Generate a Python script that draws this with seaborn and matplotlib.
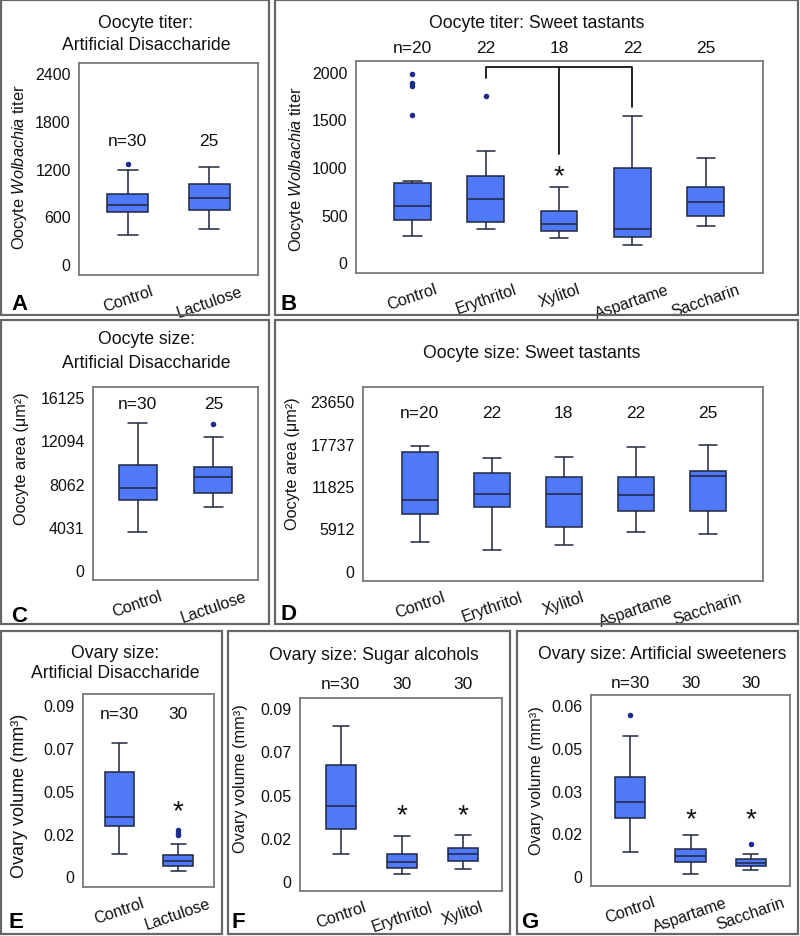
import numpy as np
import pandas as pd
import matplotlib
matplotlib.use("Agg")
import matplotlib.pyplot as plt
import seaborn as sns
from matplotlib.patches import Rectangle

# ---------------- data ----------------
# Panel A: Oocyte titer, artificial disaccharide
A_groups = ["Control", "Lactulose"]
A_lo = [364, 443]
A_q1 = [649, 682]
A_med = [737, 833]
A_q3 = [879, 1009]
A_hi = [1177, 1215]
A_out_groups = ["Control"]
A_out_vals = [1253]
A_n = ["n=30", "25"]
A_yticks = [0, 600, 1200, 1800, 2400]
A_yticklabels = ["0", "600", "1200", "1800", "2400"]

# Panel B: Oocyte titer, sweet tastants
B_groups = ["Control", "Erythritol", "Xylitol", "Aspartame", "Saccharin"]
B_lo = [279, 349, 258, 185, 381]
B_q1 = [444, 420, 325, 265, 483]
B_med = [594, 661, 399, 346, 630]
B_q3 = [832, 902, 535, 993, 787]
B_hi = [853, 1171, 790, 1535, 1094]
B_out_groups = ["Control", "Control", "Control", "Control", "Erythritol"]
B_out_vals = [1973, 1878, 1847, 1549, 1748]
B_n = ["n=20", "22", "18", "22", "25"]
B_yticks = [0, 500, 1000, 1500, 2000]
B_yticklabels = ["0", "500", "1000", "1500", "2000"]
B_star_groups = ["Xylitol"]
B_star_vals = [1010]
B_bracket_top = 2046
B_bracket_ends = [1930, 1633]   # Erythritol end, Aspartame end
B_bracket_mid = 1136            # Xylitol drop

# Panel C: Oocyte size, artificial disaccharide
C_groups = ["Control", "Lactulose"]
C_lo = [3518, 5852]
C_q1 = [6566, 7221]
C_med = [7656, 8717]
C_q3 = [9804, 9617]
C_hi = [13757, 12386]
C_out_groups = ["Lactulose"]
C_out_vals = [13632]
C_n = ["n=30", "25"]
C_yticks = [0, 4031.25, 8062.5, 12093.75, 16125]
C_yticklabels = ["0", "4031", "8062", "12094", "16125"]

# Panel D: Oocyte size, sweet tastants
D_groups = ["Control", "Erythritol", "Xylitol", "Aspartame", "Saccharin"]
D_lo = [4079, 2932, 3588, 5403, 5124]
D_q1 = [7874, 8851, 6101, 8376, 8376]
D_med = [9828, 10666, 10666, 10568, 13263]
D_q3 = [16613, 13598, 13081, 13039, 13919]
D_hi = [17451, 15775, 15915, 17311, 17590]
D_n = ["n=20", "22", "18", "22", "25"]
D_yticks = [0, 5912.5, 11825, 17737.5, 23650]
D_yticklabels = ["0", "5912", "11825", "17737", "23650"]

# Panel E: Ovary size, artificial disaccharide
E_groups = ["Control", "Lactulose"]
E_lo = [0.0120, 0.0026]
E_q1 = [0.0267, 0.0052]
E_med = [0.0311, 0.0081]
E_q3 = [0.0547, 0.0112]
E_hi = [0.0701, 0.0168]
E_out_groups = ["Lactulose", "Lactulose", "Lactulose"]
E_out_vals = [0.0245, 0.0229, 0.0215]
E_n = ["n=30", "30"]
E_yticks = [0, 0.0225, 0.045, 0.0675, 0.09]
E_yticklabels = ["0", "0.02", "0.05", "0.07", "0.09"]
E_star_groups = ["Lactulose"]
E_star_vals = [0.0393]

# Panel F: Ovary size, sugar alcohols
F_groups = ["Control", "Erythritol", "Xylitol"]
F_lo = [0.0141, 0.0035, 0.0065]
F_q1 = [0.0273, 0.0070, 0.0103]
F_med = [0.0388, 0.0099, 0.0139]
F_q3 = [0.0601, 0.0139, 0.0174]
F_hi = [0.0806, 0.0236, 0.0238]
F_n = ["n=30", "30", "30"]
F_yticks = [0, 0.0225, 0.045, 0.0675, 0.09]
F_yticklabels = ["0", "0.02", "0.05", "0.07", "0.09"]
F_star_groups = ["Erythritol", "Xylitol"]
F_star_vals = [0.0391, 0.0391]

# Panel G: Ovary size, artificial sweeteners
G_groups = ["Control", "Aspartame", "Saccharin"]
G_lo = [0.0083, 0.0007, 0.0020]
G_q1 = [0.0205, 0.0049, 0.0036]
G_med = [0.0261, 0.0070, 0.0045]
G_q3 = [0.0346, 0.0095, 0.0059]
G_hi = [0.0492, 0.0143, 0.0076]
G_out_groups = ["Control", "Saccharin"]
G_out_vals = [0.0566, 0.0113]
G_n = ["n=30", "30", "30"]
G_yticks = [0, 0.015, 0.03, 0.045, 0.06]
G_yticklabels = ["0", "0.02", "0.03", "0.05", "0.06"]
G_star_groups = ["Aspartame", "Saccharin"]
G_star_vals = [0.0232, 0.0232]

# ---------------- style ----------------
sns.set_style("white")
plt.rcParams["font.family"] = ["Liberation Sans", "DejaVu Sans"]
plt.rcParams["mathtext.fontset"] = "custom"
plt.rcParams["mathtext.rm"] = "Liberation Sans"
plt.rcParams["mathtext.it"] = "Liberation Sans:italic"

W, H = 800, 937
fig = plt.figure(figsize=(W / 100, H / 100), dpi=100)
fig.patch.set_facecolor("white")

BOX = "#5079F8"
EDGE = "#1f2640"
DOT = "#1b2c8c"
SPINE = "#7a7a7a"
FRAME = "#666666"
STAR_FS = 20


def frame(x0, y0, x1, y1):
    fig.patches.append(Rectangle((x0 / W, 1 - y1 / H), (x1 - x0) / W, (y1 - y0) / H,
                                 transform=fig.transFigure, fill=False,
                                 ec=FRAME, lw=1.6, zorder=0))


def panel(rect, groups, lo, q1, med, q3, hi, xlim, ylim, yticks, yticklabels,
          nlabels, n_y, out_g=None, out_v=None, star_g=None, star_v=None):
    x0, x1, yt, yb = rect
    ax = fig.add_axes([x0 / W, 1 - yb / H, (x1 - x0) / W, (yb - yt) / H])
    rows = []
    for g, a, b, c, d, e in zip(groups, lo, q1, med, q3, hi):
        for v in (a, b, c, d, e):
            rows.append((g, v))
    df = pd.DataFrame(rows, columns=["group", "value"])
    sns.boxplot(data=df, x="group", y="value", order=groups, ax=ax, whis=(0, 100),
                width=0.5, color=BOX, saturation=1, linecolor=EDGE, linewidth=1.1,
                showfliers=False)
    if out_g:
        odf = pd.DataFrame({"group": out_g, "value": out_v})
        sns.stripplot(data=odf, x="group", y="value", order=groups, ax=ax,
                      jitter=False, color=DOT, size=4, linewidth=0, zorder=5)
    if star_g:
        for g, v in zip(star_g, star_v):
            ax.annotate("*", xy=(groups.index(g), v), xytext=(0, -0.6 * STAR_FS),
                        textcoords="offset points", ha="center", va="baseline",
                        fontsize=STAR_FS, color="#111111")
    for i, lab in enumerate(nlabels):
        ax.text(i, n_y, lab, ha="center", va="center", fontsize=12.5,
                clip_on=False, color="#111111")
    ax.set_xlim(*xlim)
    ax.set_ylim(*ylim)
    ax.set_yticks(yticks)
    ax.set_yticklabels(yticklabels)
    ax.set_xlabel("")
    ax.set_ylabel("")
    ax.tick_params(axis="both", length=4, width=1, color=SPINE, pad=2,
                   labelsize=11.5, labelcolor="#111111")
    for lab in ax.get_xticklabels():
        lab.set_rotation(19)
        lab.set_ha("center")
    for s in ax.spines.values():
        s.set_color(SPINE)
        s.set_linewidth(1.3)
    return ax


# frames
frame(1, 1, 269, 316)
frame(275, 1, 798, 316)
frame(1, 321, 269, 625)
frame(275, 321, 798, 625)
frame(1, 632, 222, 935)
frame(228, 632, 510, 935)
frame(517, 632, 798, 935)

axA = panel((79, 258, 64, 276), A_groups, A_lo, A_q1, A_med, A_q3, A_hi,
            (-0.6, 1.6), (-138, 2526), A_yticks, A_yticklabels, A_n, 1558,
            A_out_groups, A_out_vals)

axB = panel((356, 763, 62, 274), B_groups, B_lo, B_q1, B_med, B_q3, B_hi,
            (-0.77, 4.78), (-112, 2112), B_yticks, B_yticklabels, B_n, 2249,
            B_out_groups, B_out_vals, B_star_groups, B_star_vals)
e_i, x_i, a_i = B_groups.index("Erythritol"), B_groups.index("Xylitol"), B_groups.index("Aspartame")
axB.plot([e_i, e_i, a_i, a_i], [B_bracket_ends[0], B_bracket_top, B_bracket_top, B_bracket_ends[1]],
         color="#111111", lw=1.3, clip_on=False)
axB.plot([x_i, x_i], [B_bracket_top, B_bracket_mid], color="#111111", lw=1.3)

axC = panel((93, 258, 388, 581), C_groups, C_lo, C_q1, C_med, C_q3, C_hi,
            (-0.59, 1.59), (-934, 17087), C_yticks, C_yticklabels, C_n, 15500,
            C_out_groups, C_out_vals)

axD = panel((363, 763, 388, 582), D_groups, D_lo, D_q1, D_med, D_q3, D_hi,
            (-0.79, 4.77), (-1396, 25605), D_yticks, D_yticklabels, D_n, 22114)

axE = panel((83, 214, 695, 888), E_groups, E_lo, E_q1, E_med, E_q3, E_hi,
            (-0.62, 1.61), (-0.0056, 0.0958), E_yticks, E_yticklabels, E_n, 0.0853,
            E_out_groups, E_out_vals, E_star_groups, E_star_vals)

axF = panel((300, 502, 699, 892), F_groups, F_lo, F_q1, F_med, F_q3, F_hi,
            (-0.67, 2.64), (-0.0052, 0.0952), F_yticks, F_yticklabels, F_n, 0.1025,
            None, None, F_star_groups, F_star_vals)

axG = panel((591, 790, 696, 887), G_groups, G_lo, G_q1, G_med, G_q3, G_hi,
            (-0.65, 2.65), (-0.0035, 0.0635), G_yticks, G_yticklabels, G_n, 0.0678,
            G_out_groups, G_out_vals, G_star_groups, G_star_vals)


def ftext(x, y, s, **kw):
    fig.text(x / W, 1 - y / H, s, **kw)


# titles
TT = dict(ha="center", va="center", fontsize=12.7, color="#111111")
ftext(146, 24, "Oocyte titer:", **TT)
ftext(146, 45, "Artificial Disaccharide", **TT)
ftext(537, 23, "Oocyte titer: Sweet tastants", **TT)
ftext(146, 340, "Oocyte size:", **TT)
ftext(146, 364, "Artificial Disaccharide", **TT)
ftext(532, 353, "Oocyte size: Sweet tastants", **TT)
ftext(115, 654, "Ovary size:", **TT)
ftext(115, 674, "Artificial Disaccharide", **TT)
ftext(374, 656, "Ovary size: Sugar alcohols", **TT)
ftext(662, 655, "Ovary size: Artificial sweeteners", **TT)

# y labels
YL = dict(ha="center", va="center", rotation=90, fontsize=11.7, color="#111111")
ftext(20, 167, "Oocyte $\\it{Wolbachia}$ titer", **YL)
ftext(296, 169, "Oocyte $\\it{Wolbachia}$ titer", **YL)
ftext(22, 459, "Oocyte area (μm²)", **YL)
ftext(293, 464, "Oocyte area (μm²)", **YL)
ftext(20, 796, "Ovary volume (mm³)", ha="center", va="center", rotation=90,
      fontsize=13, color="#111111")
ftext(240, 779, "Ovary volume (mm³)", **YL)
ftext(537, 781, "Ovary volume (mm³)", **YL)

# panel letters
PL = dict(ha="left", va="baseline", fontsize=16, fontweight="bold", color="#000000")
ftext(11, 310, "A", **PL)
ftext(280, 310, "B", **PL)
ftext(11, 622, "C", **PL)
ftext(280, 620, "D", **PL)
ftext(9, 928, "E", **PL)
ftext(232, 928, "F", **PL)
ftext(521, 928, "G", **PL)

fig.savefig("out.png", dpi=100, facecolor="white")
